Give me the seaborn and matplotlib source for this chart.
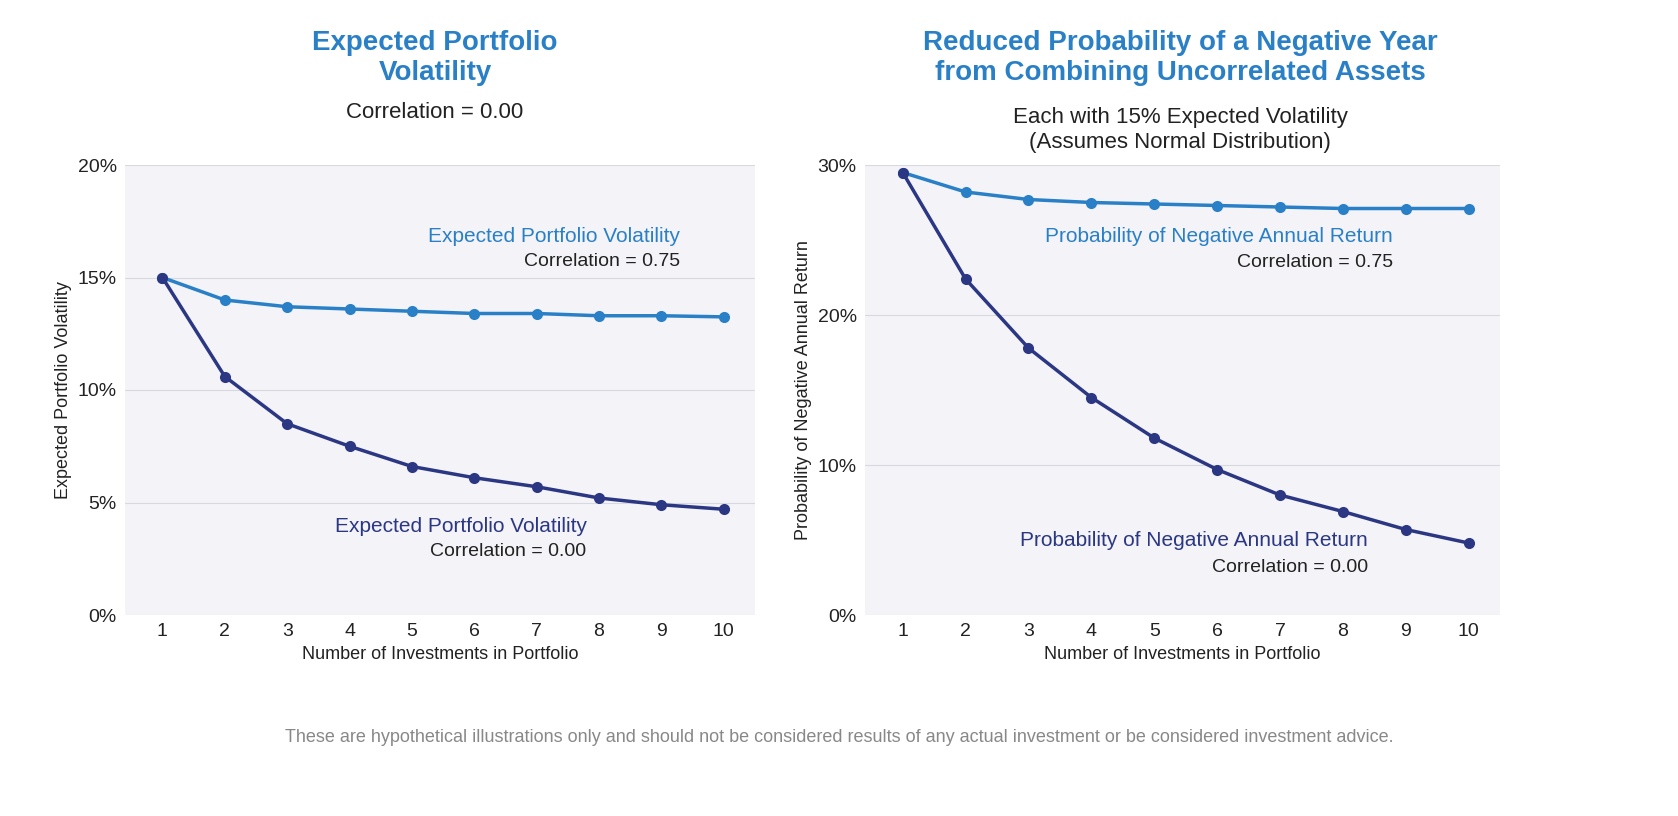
import matplotlib
matplotlib.use("Agg")
import matplotlib.pyplot as plt
import seaborn as sns
import pandas as pd

sns.set_theme(style="white")
plt.rcParams['font.family'] = ['Liberation Sans', 'DejaVu Sans']

n = [1, 2, 3, 4, 5, 6, 7, 8, 9, 10]
vol_075 = [15.0, 14.0, 13.7, 13.6, 13.5, 13.4, 13.4, 13.3, 13.3, 13.25]
vol_000 = [15.0, 10.6, 8.5, 7.5, 6.6, 6.1, 5.7, 5.2, 4.9, 4.7]
neg_075 = [29.5, 28.2, 27.7, 27.5, 27.4, 27.3, 27.2, 27.1, 27.1, 27.1]
neg_000 = [29.5, 22.4, 17.8, 14.5, 11.8, 9.7, 8.0, 6.9, 5.7, 4.8]

LIGHT = "#2a80c6"
DARK = "#2b3783"
TITLE = "#2a80c6"
BG = "#f3f3f8"

W, H = 1678, 816
fig = plt.figure(figsize=(W/100, H/100), dpi=100)

def make_ax(x0, x1, y0, y1):
    return fig.add_axes([x0/W, 1-y1/H, (x1-x0)/W, (y1-y0)/H])

ax1 = make_ax(125, 755, 165, 615)
ax2 = make_ax(865, 1500, 165, 615)

def style(ax, ymax, step, ylabel):
    ax.set_facecolor(BG)
    for s in ax.spines.values():
        s.set_visible(False)
    ax.set_xlim(0.4, 10.5)
    ax.set_ylim(0, ymax)
    ticks = list(range(0, ymax+1, step))
    ax.set_yticks(ticks)
    ax.set_yticklabels([f"{t}%" for t in ticks], fontsize=14, color="#222222")
    ax.set_xticks(n)
    ax.set_xticklabels([str(i) for i in n], fontsize=14, color="#222222")
    ax.grid(axis="y", color="#d8d8e0", linewidth=0.8)
    ax.set_axisbelow(True)
    ax.tick_params(length=0, pad=6)
    ax.set_xlabel("Number of Investments in Portfolio", fontsize=13, color="#222222")
    ax.set_ylabel(ylabel, fontsize=13, color="#222222")

df1 = pd.DataFrame({"n": n, "a": vol_075, "b": vol_000})
df2 = pd.DataFrame({"n": n, "a": neg_075, "b": neg_000})
for ax, df in [(ax1, df1), (ax2, df2)]:
    sns.lineplot(data=df, x="n", y="a", ax=ax, color=LIGHT, linewidth=2.5, marker="o", markersize=8, markeredgewidth=0)
    sns.lineplot(data=df, x="n", y="b", ax=ax, color=DARK, linewidth=2.5, marker="o", markersize=8, markeredgewidth=0)

style(ax1, 20, 5, "Expected Portfolio Volatility")
style(ax2, 30, 10, "Probability of Negative Annual Return")

ax1.text(9.3, 16.6, "Expected Portfolio Volatility", color=LIGHT, fontsize=15, ha="right")
ax1.text(9.3, 15.5, "Correlation = 0.75", color="#222222", fontsize=14, ha="right")
ax1.text(7.8, 3.7, "Expected Portfolio Volatility", color=DARK, fontsize=15, ha="right")
ax1.text(7.8, 2.6, "Correlation = 0.00", color="#222222", fontsize=14, ha="right")
ax2.text(8.8, 24.9, "Probability of Negative Annual Return", color=LIGHT, fontsize=15, ha="right")
ax2.text(8.8, 23.2, "Correlation = 0.75", color="#222222", fontsize=14, ha="right")
ax2.text(8.4, 4.6, "Probability of Negative Annual Return", color=DARK, fontsize=15, ha="right")
ax2.text(8.4, 2.9, "Correlation = 0.00", color="#222222", fontsize=14, ha="right")

fig.text(435/W, 1-58/H, "Expected Portfolio\nVolatility", color=TITLE, fontsize=20, fontweight="bold", ha="center", va="center", linespacing=1.15)
fig.text(435/W, 1-113/H, "Correlation = 0.00", color="#222222", fontsize=16, ha="center", va="center")
fig.text(1180/W, 1-58/H, "Reduced Probability of a Negative Year\nfrom Combining Uncorrelated Assets", color=TITLE, fontsize=20, fontweight="bold", ha="center", va="center", linespacing=1.15)
fig.text(1180/W, 1-130/H, "Each with 15% Expected Volatility\n(Assumes Normal Distribution)", color="#222222", fontsize=16, ha="center", va="center", linespacing=1.2)

fig.text(0.5, 1-737/H, "These are hypothetical illustrations only and should not be considered results of any actual investment or be considered investment advice.",
         color="#888888", fontsize=13, ha="center", va="center")

fig.savefig("out.png", dpi=100)
